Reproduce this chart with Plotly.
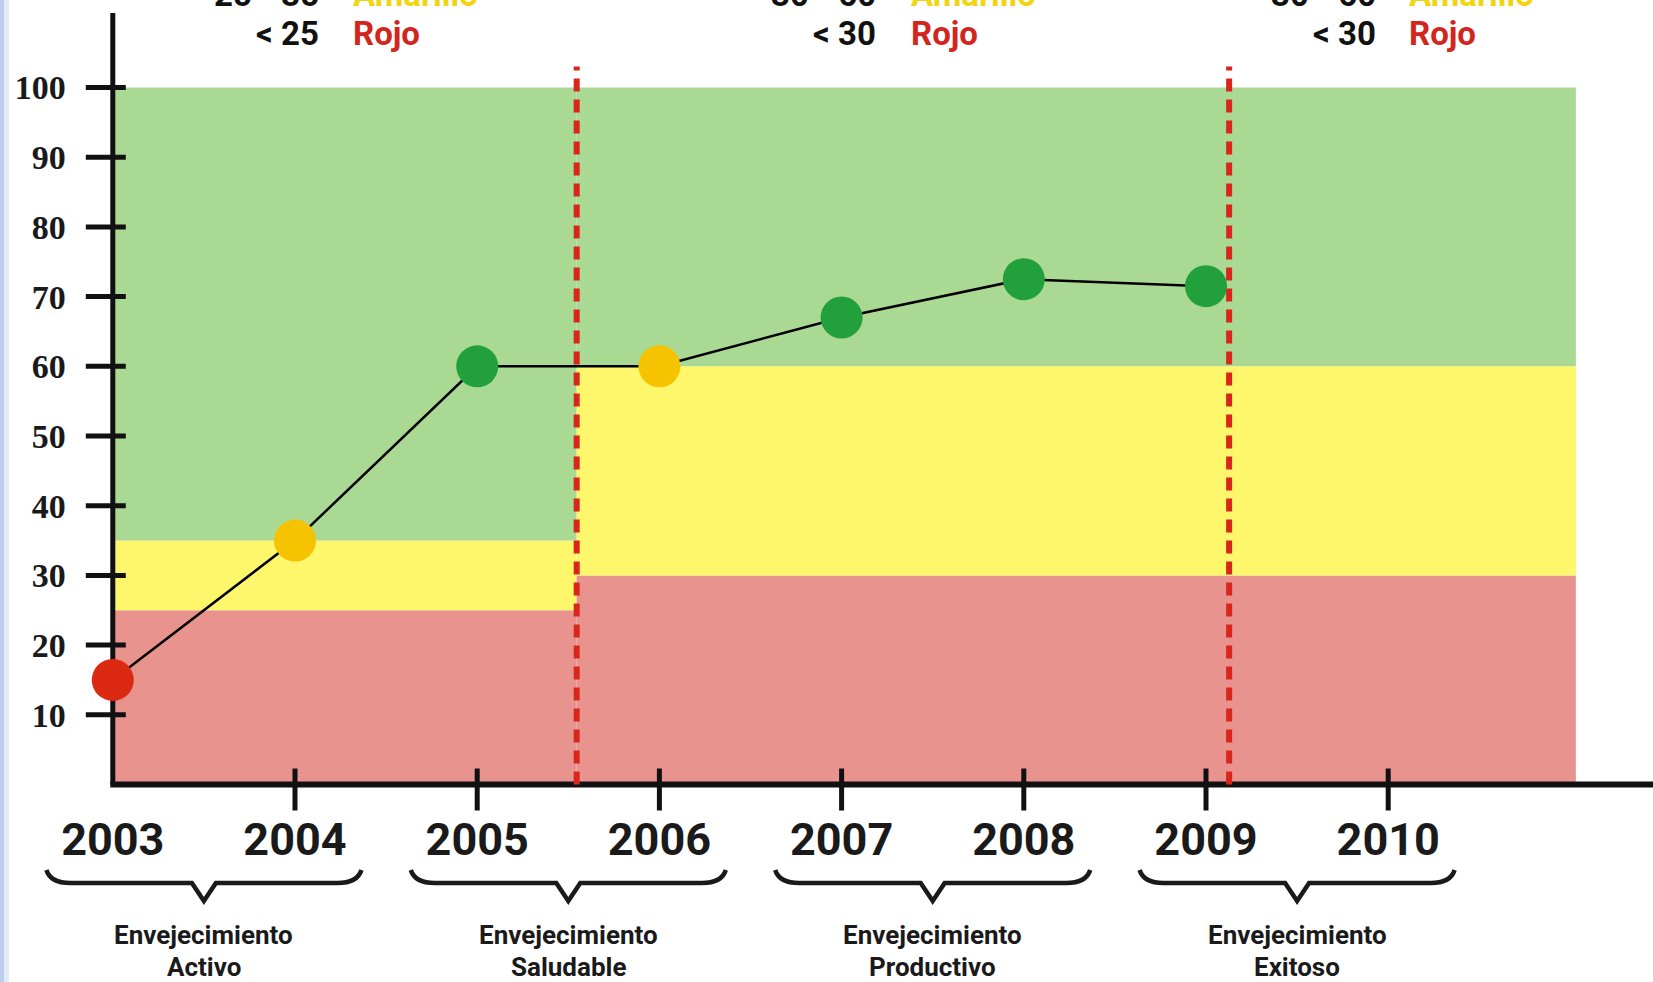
import plotly.graph_objects as go

# ---------------- data ----------------
years = [2003, 2004, 2005, 2006, 2007, 2008, 2009]
values = [15, 35, 60, 60, 67, 72.5, 71.5]
point_colors = ["#dc2a12", "#f6c300", "#22a03c", "#f6c300", "#22a03c", "#22a03c", "#22a03c"]

tick_years = [2003, 2004, 2005, 2006, 2007, 2008, 2009, 2010]
y_ticks = [10, 20, 30, 40, 50, 60, 70, 80, 90, 100]

# threshold segments
seg_starts = [2003, 2005.546]
seg_ends = [2005.546, 2011.03]
red_upper = [25, 30]
yellow_upper = [35, 60]
band_top = 100
divider_years = [2005.546, 2009.127]

group_names = ["Activo", "Saludable", "Productivo", "Exitoso"]
group_first = [2003, 2005, 2007, 2009]
group_last = [2004, 2006, 2008, 2010]
group_title = "Envejecimiento"

legend_ranges = [("25 - 35", "< 25"), ("30 - 60", "< 30"), ("30 - 60", "< 30")]

GREEN = "#a9d993"
YELLOW = "#fef76b"
RED = "#e8938e"
DASH_RED = "#d8261b"

# ---------------- calibration (pixels) ----------------
W, H = 1653, 982
X0PX, XSTEP = 112.8, 182.2      # px of 2003, px per year
Y0PX, YSTEP = 784.5, 6.97       # px of value 0, px per unit
x_range = [2003 - X0PX / XSTEP, 2003 + (W - X0PX) / XSTEP]
y_range = [-(H - Y0PX) / YSTEP, Y0PX / YSTEP]


def dx(px):
    return px / XSTEP


def dy(px):
    return px / YSTEP


SANS = "Roboto, Liberation Sans, sans-serif"

fig = go.Figure()

fig.add_trace(go.Scatter(
    x=years, y=values, mode="lines+markers",
    line=dict(color="black", width=2.5),
    marker=dict(color=point_colors, size=42, line=dict(width=0)),
    cliponaxis=False, showlegend=False, hoverinfo="x+y",
))

shapes = []
# left blue edge
shapes.append(dict(type="rect", xref="paper", yref="paper", x0=0, x1=4 / W, y0=0, y1=1,
                   fillcolor="#bfcdee", line=dict(width=0), layer="below"))
shapes.append(dict(type="rect", xref="paper", yref="paper", x0=4 / W, x1=9 / W, y0=0, y1=1,
                   fillcolor="#e2e9f8", line=dict(width=0), layer="below"))

# bands
for s, e, r, yl in zip(seg_starts, seg_ends, red_upper, yellow_upper):
    for lo, hi, col in [(0, r, RED), (r, yl, YELLOW), (yl, band_top, GREEN)]:
        shapes.append(dict(type="rect", xref="x", yref="y", x0=s, x1=e, y0=lo, y1=hi,
                           fillcolor=col, line=dict(width=0), layer="below"))

# axes lines
shapes.append(dict(type="line", xref="x", yref="y", x0=2003, x1=2003, y0=0, y1=110.7,
                   line=dict(color="#111", width=5), layer="below"))
shapes.append(dict(type="line", xref="x", yref="y", x0=2003 - dx(2.5), x1=x_range[1] + 1, y0=0, y1=0,
                   line=dict(color="#111", width=6), layer="below"))
# tick marks
for v in y_ticks:
    shapes.append(dict(type="line", xref="x", yref="y", x0=2003 - dx(27), x1=2003 + dx(13), y0=v, y1=v,
                       line=dict(color="#111", width=5), layer="below"))
for t in tick_years[1:]:
    shapes.append(dict(type="line", xref="x", yref="y", x0=t, x1=t, y0=-dy(26), y1=dy(16),
                       line=dict(color="#111", width=5), layer="below"))

# dashed dividers
for d in divider_years:
    shapes.append(dict(type="line", xref="x", yref="y", x0=d, x1=d, y0=0, y1=103,
                       line=dict(color=DASH_RED, width=6, dash="13px,8px"), layer="above"))

# braces
y_tip, y_bar, y_pt = -dy(870 - Y0PX), -dy(883 - Y0PX), -dy(901 - Y0PX)
for a, b in zip(group_first, group_last):
    xc = (a + b) / 2
    half = dx(157.5)
    x0, x1 = xc - half, xc + half
    c = dx(24)
    v = dx(12)
    path = (f"M {x0},{y_tip} Q {x0 + dx(4)},{y_bar} {x0 + c},{y_bar} "
            f"L {xc - v},{y_bar} L {xc},{y_pt} L {xc + v},{y_bar} "
            f"L {x1 - c},{y_bar} Q {x1 - dx(4)},{y_bar} {x1},{y_tip}")
    shapes.append(dict(type="path", xref="x", yref="y", path=path,
                       line=dict(color="#1a1a1a", width=4.5), layer="above"))

annotations = []
for a, b, name in zip(group_first, group_last, group_names):
    xc = (a + b) / 2
    annotations.append(dict(x=xc, y=1 - 935 / H, xref="x", yref="paper", text=group_title,
                            showarrow=False, xanchor="center", yanchor="middle",
                            font=dict(family=SANS, size=26, color="#1a1a1a", weight="bold")))
    annotations.append(dict(x=xc, y=1 - 967 / H, xref="x", yref="paper", text=name,
                            showarrow=False, xanchor="center", yanchor="middle",
                            font=dict(family=SANS, size=26, color="#1a1a1a", weight="bold")))

# threshold legend texts (top); the first row is partly cut by the top edge, as in the original
num_right_px = [321, 878, 1378]
word_left_px = [351, 909, 1407]
row_y_px = [-6, 33]
for (ama, roj), nr, wl in zip(legend_ranges, num_right_px, word_left_px):
    for txt, word, col, ry in [(ama, "Amarillo", "#f2d50f", row_y_px[0]), (roj, "Rojo", "#d2261c", row_y_px[1])]:
        annotations.append(dict(x=nr / W, y=1 - ry / H, xref="paper", yref="paper", text=txt.replace(" ", "&nbsp;"),
                                showarrow=False, xanchor="right", yanchor="middle",
                                font=dict(family=SANS, size=33, color="#111", weight="bold")))
        annotations.append(dict(x=wl / W, y=1 - ry / H, xref="paper", yref="paper", text=word,
                                showarrow=False, xanchor="left", yanchor="middle",
                                font=dict(family=SANS, size=33, color=col, weight="bold")))

fig.update_layout(
    width=W, height=H,
    margin=dict(l=0, r=0, t=0, b=0),
    paper_bgcolor="white", plot_bgcolor="white",
    shapes=shapes, annotations=annotations,
    showlegend=False,
    xaxis=dict(range=x_range, domain=[0, 1], anchor="free", position=(H - Y0PX) / H,
               showgrid=False, zeroline=False, showline=False, ticks="",
               tickvals=tick_years, ticktext=[str(t) for t in tick_years],
               tickfont=dict(family=SANS, size=45, color="#1a1a1a", weight="bold"),
               ticklabelstandoff=24, automargin=False, fixedrange=True),
    yaxis=dict(range=y_range, domain=[0, 1], anchor="free", position=X0PX / W,
               showgrid=False, zeroline=False, showline=False, ticks="",
               tickvals=y_ticks,
               tickfont=dict(family="Liberation Serif, DejaVu Serif, serif", size=34, color="#1a1a1a", weight="bold"),
               ticklabelstandoff=47, automargin=False, fixedrange=True),
)

fig.write_html("out.html", config={"displayModeBar": False},
               post_script="document.body.style.margin='0';document.body.style.overflow='hidden';")
